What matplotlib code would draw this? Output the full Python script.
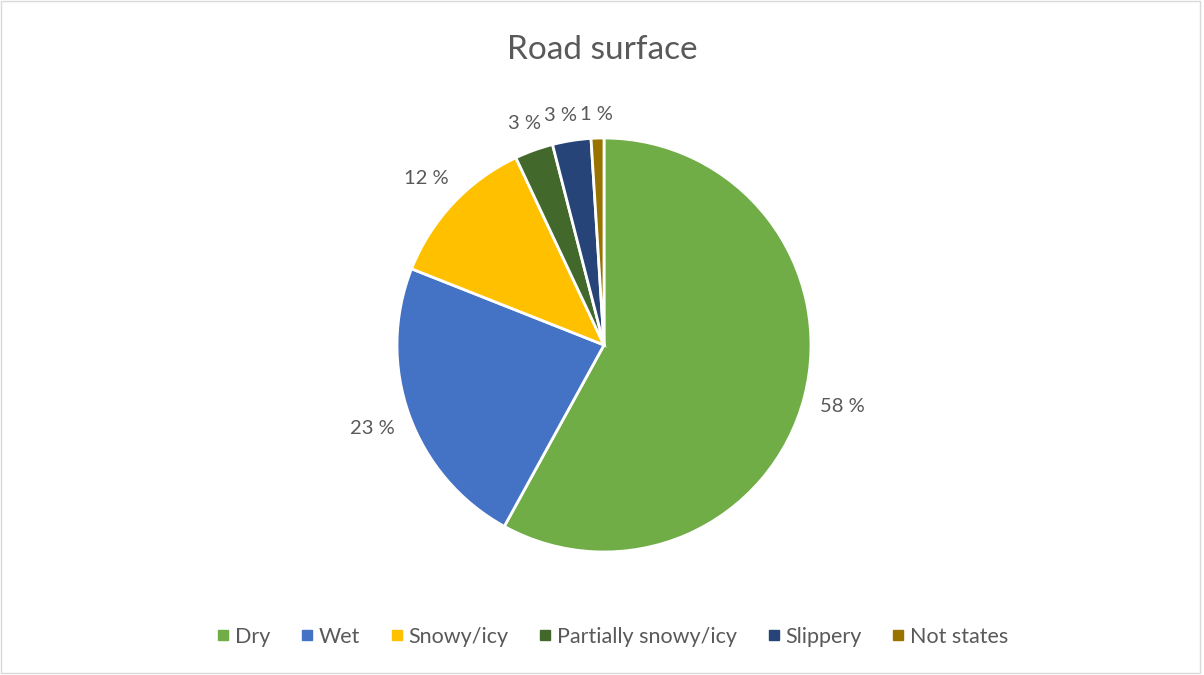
import matplotlib
matplotlib.use("Agg")
import numpy as np
import matplotlib.pyplot as plt
from matplotlib.patches import Rectangle
from matplotlib.lines import Line2D

categories = ["Dry", "Wet", "Snowy/icy", "Partially snowy/icy", "Slippery", "Not states"]
values = [58, 23, 12, 3, 3, 1]
colors = ["#70AD47", "#4472C4", "#FFC000", "#43682B", "#264478", "#997300"]
title = "Road surface"

plt.rcParams['font.family'] = ['Lato', 'DejaVu Sans']
text_color = "#595959"

fig = plt.figure(figsize=(12.04, 6.75), dpi=100)
fig.patches.append(Rectangle((0.001, 0.003), 0.996, 0.995, transform=fig.transFigure,
                             fill=False, edgecolor="#D9D9D9", linewidth=1))

R_PX = 207.0
ax = fig.add_axes([397/1204, (675-552)/675, 414/1204, 414/675])
wedges, texts = ax.pie(values, colors=colors, startangle=90, counterclock=False,
                       labels=[f"{v} %" for v in values], labeldistance=1.2,
                       wedgeprops=dict(edgecolor="white", linewidth=2),
                       textprops=dict(color=text_color, fontsize=14.5))
ax.set_xlim(-1, 1)
ax.set_ylim(-1, 1)
ax.axis('off')

# Excel-like outside-end label placement: constant gap between the pie edge
# and the nearest side of each label box.
fig.canvas.draw()
renderer = fig.canvas.get_renderer()
gap = 16.0 / R_PX
sizes = []
for w, t in zip(wedges, texts):
    ang = np.deg2rad((w.theta1 + w.theta2) / 2.0)
    bb = t.get_window_extent(renderer)
    hw = bb.width / 2.0 / R_PX
    hh = bb.height / 2.0 / R_PX * 0.8
    d = 1.0 + gap + abs(np.cos(ang)) * hw + abs(np.sin(ang)) * hh
    t.set_position((d * np.cos(ang), d * np.sin(ang)))
    t.set_horizontalalignment('center')
    t.set_verticalalignment('center')
    sizes.append((bb.width / R_PX, bb.height / R_PX))

# resolve overlaps among the small top slices: push a label left of its
# clockwise neighbour if they collide
pad = 3.0 / R_PX
for i in range(len(texts) - 2, 0, -1):
    x1, y1 = texts[i].get_position()
    x2, y2 = texts[i + 1].get_position()
    w1, h1 = sizes[i]
    w2, h2 = sizes[i + 1]
    if abs(y1 - y2) < (h1 + h2) / 2 and x1 + w1 / 2 > x2 - w2 / 2 - pad and x1 < x2:
        texts[i].set_position((x2 - w2 / 2 - pad - w1 / 2, y1))

fig.text(0.5, 1 - 50/675, title, ha='center', va='center', fontsize=24, color=text_color)

handles = [Line2D([], [], marker='s', linestyle='none', markersize=7,
                  markerfacecolor=c, markeredgecolor=c) for c in colors]
fig.legend(handles, categories, loc='center', bbox_to_anchor=(612/1204, 1 - 637/675),
           ncol=6, frameon=False, fontsize=15.5, labelcolor=text_color,
           handletextpad=0.2, columnspacing=1.35, handlelength=0.7)

fig.savefig("out.png", dpi=100)
